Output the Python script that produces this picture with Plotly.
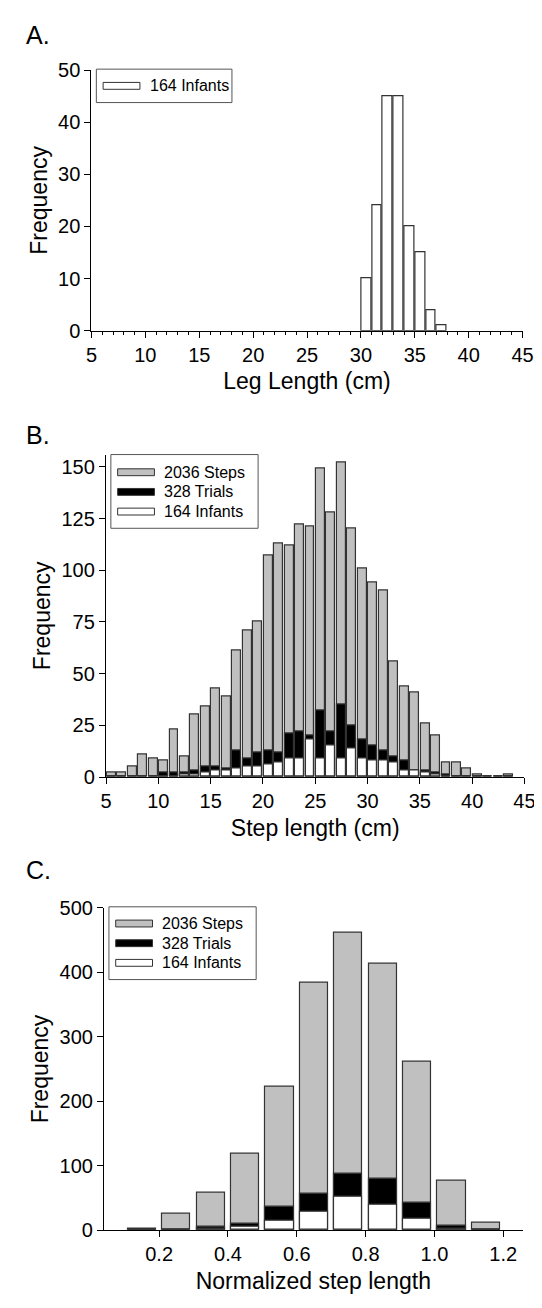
import plotly.graph_objects as go

W, H = 542, 1308
FONT = "Liberation Sans, Arial, sans-serif"
GRAY = "#c0c0c0"
EDGE = "#333333"

# --- Panel A: leg length, 1 cm bins (left edge) ---
leg_bins = [30, 31, 32, 33, 34, 35, 36, 37]
leg_infants = [10, 24, 45, 45, 20, 15, 4, 1]

# --- Panel B: step length, 1 cm bins (left edge 5..43) ---
step_bins = list(range(5, 44))
step_steps = [2, 2, 5, 11, 9, 8, 23, 10, 30, 34, 43, 39, 61, 71, 75, 107, 113, 112, 122, 121,
              149, 128, 152, 120, 101, 94, 90, 56, 44, 41, 26, 20, 7, 7, 4, 1, 0, 0, 1]
step_trials = [0, 0, 0, 0, 0, 2, 2, 2, 3, 5, 5, 4, 13, 9, 12, 13, 12, 21, 22, 20,
               32, 22, 35, 25, 18, 15, 13, 10, 8, 3, 3, 2, 1, 0, 0, 0, 0, 0, 0]
step_infants = [0, 0, 0, 0, 0, 0, 0, 1, 1, 2, 3, 3, 4, 5, 5, 6, 7, 9, 9, 18,
                9, 15, 9, 14, 9, 8, 8, 7, 3, 3, 2, 1, 0, 0, 0, 0, 0, 0, 0]

# --- Panel C: normalized step length, 0.1 bins (centers) ---
norm_bins = [0.15, 0.25, 0.35, 0.45, 0.55, 0.65, 0.75, 0.85, 0.95, 1.05, 1.15]
norm_steps = [3, 25, 58, 118, 222, 383, 462, 413, 262, 77, 12]
norm_trials = [1, 0, 5, 10, 37, 57, 88, 80, 43, 7, 0]
norm_infants = [0, 0, 3, 5, 15, 28, 52, 40, 18, 3, 0]


def py(p):
    # pixel row -> paper fraction
    return 1 - p / H


def px(p):
    return p / W


fig = go.Figure()

# panel A
fig.add_trace(go.Bar(x=[b + 0.5 for b in leg_bins], y=leg_infants, width=0.9,
                     marker=dict(color="white", line=dict(color=EDGE, width=1.2)),
                     xaxis="x", yaxis="y", showlegend=False))

# panel B (overlaid, all from zero)
for vals, col in [(step_steps, GRAY), (step_trials, "black"), (step_infants, "white")]:
    fig.add_trace(go.Bar(x=[b + 0.5 for b in step_bins], y=vals, width=0.85,
                         marker=dict(color=col, line=dict(color=EDGE, width=1.2)),
                         xaxis="x2", yaxis="y2", showlegend=False))

# panel C
for vals, col in [(norm_steps, GRAY), (norm_trials, "black"), (norm_infants, "white")]:
    fig.add_trace(go.Bar(x=norm_bins, y=vals, width=0.082,
                         marker=dict(color=col, line=dict(color=EDGE, width=1.2)),
                         xaxis="x3", yaxis="y3", showlegend=False))

ax = dict(showline=True, linecolor="black", linewidth=1.3, ticks="outside", ticklen=6,
          tickcolor="black", tickwidth=1.3, showgrid=False, zeroline=False,
          tickfont=dict(family=FONT, size=20, color="black"),
          title_font=dict(family=FONT, size=23, color="black"))

fig.update_layout(
    width=W, height=H, margin=dict(l=0, r=0, t=0, b=0),
    paper_bgcolor="white", plot_bgcolor="white", barmode="overlay", bargap=0,
    font=dict(family=FONT, color="black"),
    xaxis=dict(ax, domain=[px(80), px(525)], range=[5, 45], dtick=5, anchor="y",
               minor=dict(dtick=1, ticks="outside", ticklen=3, tickcolor="black"),
               title=dict(text="Leg Length (cm)", standoff=8)),
    yaxis=dict(ax, domain=[py(317), py(52)], range=[0, 50], dtick=10, anchor="x",
               title=dict(text="Frequency", standoff=4)),
    xaxis2=dict(ax, domain=[px(95), px(527)], range=[5, 45], dtick=5, anchor="y2",
                title=dict(text="Step length (cm)", standoff=8)),
    yaxis2=dict(ax, domain=[py(771), py(443)], range=[0, 156], tickvals=[0, 25, 50, 75, 100, 125, 150],
                anchor="x2", title=dict(text="Frequency", standoff=4)),
    xaxis3=dict(ax, domain=[px(93), px(525)], range=[0.04, 1.256],
                tickvals=[0.2, 0.4, 0.6, 0.8, 1.0, 1.2], ticktext=["0.2", "0.4", "0.6", "0.8", "1.0", "1.2"],
                anchor="y3", title=dict(text="Normalized step length", standoff=8)),
    yaxis3=dict(ax, domain=[py(1232), py(904)], range=[0, 500], dtick=100, anchor="x3",
                title=dict(text="Frequency", standoff=4)),
)

# panel letters
for txt, yy in [("A.", 16), ("B.", 423), ("C.", 866)]:
    fig.add_annotation(text=txt, x=px(10), y=py(yy), xref="paper", yref="paper",
                       xanchor="left", yanchor="middle", showarrow=False,
                       font=dict(family=FONT, size=25, color="black"))


# hand-drawn legends (wide bar swatches)
def legend(box, rows):
    x0, y0, x1, y1 = box
    fig.add_shape(type="rect", xref="paper", yref="paper", x0=px(x0), x1=px(x1), y0=py(y0), y1=py(y1),
                  line=dict(color="#555", width=1), fillcolor="white", layer="above")
    for yy, col, label in rows:
        fig.add_shape(type="rect", xref="paper", yref="paper", x0=px(x0 + 7), x1=px(x0 + 45),
                      y0=py(yy - 3.5), y1=py(yy + 3.5), line=dict(color=EDGE, width=1),
                      fillcolor=col, layer="above")
        fig.add_annotation(text=label, x=px(x0 + 53), y=py(yy), xref="paper", yref="paper",
                           xanchor="left", yanchor="middle", showarrow=False,
                           font=dict(family=FONT, size=16, color="black"))


legend((85, 51, 225, 85), [(68, "white", "164 Infants")])
legend((100, 443, 252, 518), [(461, GRAY, "2036 Steps"), (481, "black", "328 Trials"),
                              (501, "white", "164 Infants")])
legend((98, 903, 250, 977), [(920, GRAY, "2036 Steps"), (940, "black", "328 Trials"),
                             (960, "white", "164 Infants")])

fig.write_html("out.html")
